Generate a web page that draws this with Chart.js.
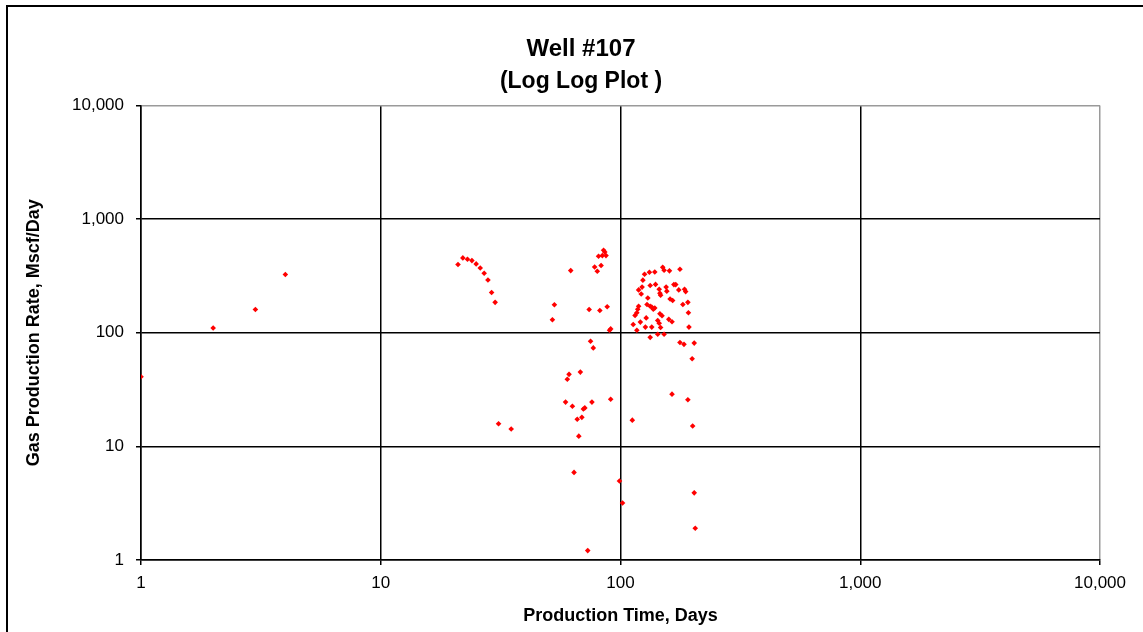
<!DOCTYPE html>
<html>
<head>
<meta charset="utf-8">
<script src="https://cdn.jsdelivr.net/npm/chart.js@4"></script>
<style>
    body { margin: 0; background: #fff; overflow: hidden; }
    #frame {
        position: absolute;
        left: 6px;
        top: 5px;
        width: 1160px;
        height: 640px;
        border: 2px solid #000;
        background: #fff;
    }
</style>
</head>
<body>
<div id="frame">
    <canvas id="well-chart" width="1146" height="625"></canvas>
</div>
<script>
const days = [
    1, 2, 3, 4,
    21, 22, 23, 24, 25, 26, 27, 28, 29, 30, 31, 35,
    52, 53, 59, 60, 61, 62, 63, 64, 66, 67, 68, 69, 70, 71, 73,
    74, 75, 76, 77, 78, 80, 81, 82, 83, 84, 85, 86, 87, 88, 90, 91, 91,
    99, 102, 112,
    113, 115, 117, 117, 118, 119, 119, 121, 122, 123, 124, 126, 127, 128, 129, 130,
    132, 133, 133, 133, 135, 135, 137, 139, 139, 140, 143, 143, 145, 145, 146, 146,
    147, 147, 149, 150, 152, 152, 155, 156, 159, 160, 161, 164, 164, 165, 167, 170,
    175, 177, 177, 182, 184, 185, 187, 191, 191, 192, 193, 199, 200, 203, 203, 205
];

const rates = [
    41, 110, 160, 325,
    398, 455, 443, 431, 403, 371, 334, 291, 226, 185, 15.8, 14.2,
    130, 176, 24.5, 39, 43, 352, 22.5, 5.9, 17.3, 12.3, 45, 18, 21.3, 21.8, 1.21,
    160, 84, 24.5, 73.5, 379, 347, 470, 157, 390, 477, 531, 513, 477, 169, 105, 108, 26,
    4.95, 3.17, 17,
    118, 142, 105, 150, 161, 171, 238, 124, 219, 252, 290, 327, 112, 135, 177, 202,
    340, 91, 171, 260, 112, 168, 161, 165, 342, 266, 97, 128, 121, 241, 147, 222,
    111, 214, 141, 376, 97, 354, 252, 232, 131, 350, 198, 125, 28.8, 192, 265, 265,
    238, 82, 362, 177, 79, 241, 230, 185, 25.7, 150, 112, 59, 15.1, 81, 3.9, 1.9
];

const decades = [1, 10, 100, 1000, 10000];

function decadeTicks(scale) {
    scale.ticks = decades.map(v => ({ value: v }));
}

function gridColor(ctx) {
    // top and right edges of the plot are grey in the original
    return ctx.tick && ctx.tick.value === 10000 ? '#9a9a9a' : '#000';
}

function drawWellChart() {
    const data = {
        datasets: [{
            label: 'Gas Rate',
            data: days.map((d, i) => ({ x: d, y: rates[i] })),
            backgroundColor: '#ff0000',
            borderWidth: 0,
            pointStyle: 'rectRot',
            pointRadius: 2.8
        }]
    };

    const tickFont = { family: 'Liberation Sans, Arial, sans-serif', size: 17 };
    const titleFont = { family: 'Liberation Sans, Arial, sans-serif', size: 18, weight: 'bold' };

    const options = {
        responsive: false,
        animation: false,
        layout: { padding: 0 },
        plugins: {
            legend: { display: false },
            tooltip: { enabled: false },
            title: {
                display: true,
                text: 'Well #107',
                color: '#000',
                font: { family: 'Liberation Sans, Arial, sans-serif', size: 24, weight: 'bold' },
                padding: { top: 28, bottom: 0 }
            },
            subtitle: {
                display: true,
                text: '(Log Log Plot )',
                color: '#000',
                font: { family: 'Liberation Sans, Arial, sans-serif', size: 23, weight: 'bold' },
                padding: { top: 4, bottom: 10 }
            }
        },
        scales: {
            x: {
                type: 'logarithmic',
                position: 'bottom',
                min: 1,
                max: 10000,
                afterBuildTicks: decadeTicks,
                afterFit: s => { s.height = 72; s.paddingRight = 54; },
                grid: { color: gridColor, tickColor: '#000', lineWidth: 1.5, tickLength: 5 },
                border: { color: '#000', width: 1.5 },
                ticks: {
                    color: '#000',
                    font: tickFont,
                    padding: 8,
                    maxRotation: 0,
                    callback: v => Number(v).toLocaleString('en-US')
                },
                title: {
                    display: true,
                    text: 'Production Time, Days',
                    color: '#000',
                    font: titleFont,
                    padding: { top: 0, bottom: 5 }
                }
            },
            y: {
                type: 'logarithmic',
                position: 'left',
                min: 1,
                max: 10000,
                afterBuildTicks: decadeTicks,
                afterFit: s => { s.width = 133; },
                grid: { color: gridColor, tickColor: '#000', lineWidth: 1.5, tickLength: 5 },
                border: { color: '#000', width: 1.5 },
                ticks: {
                    color: '#000',
                    font: tickFont,
                    padding: 12,
                    callback: v => Number(v).toLocaleString('en-US')
                },
                title: {
                    display: true,
                    text: 'Gas Production Rate, Mscf/Day',
                    color: '#000',
                    font: titleFont,
                    padding: { top: 15, bottom: 0 }
                }
            }
        }
    };

    const ctx = document.getElementById('well-chart').getContext('2d');
    new Chart(ctx, {
        type: 'scatter',
        data: data,
        options: options
    });
}

drawWellChart();
</script>
</body>
</html>
